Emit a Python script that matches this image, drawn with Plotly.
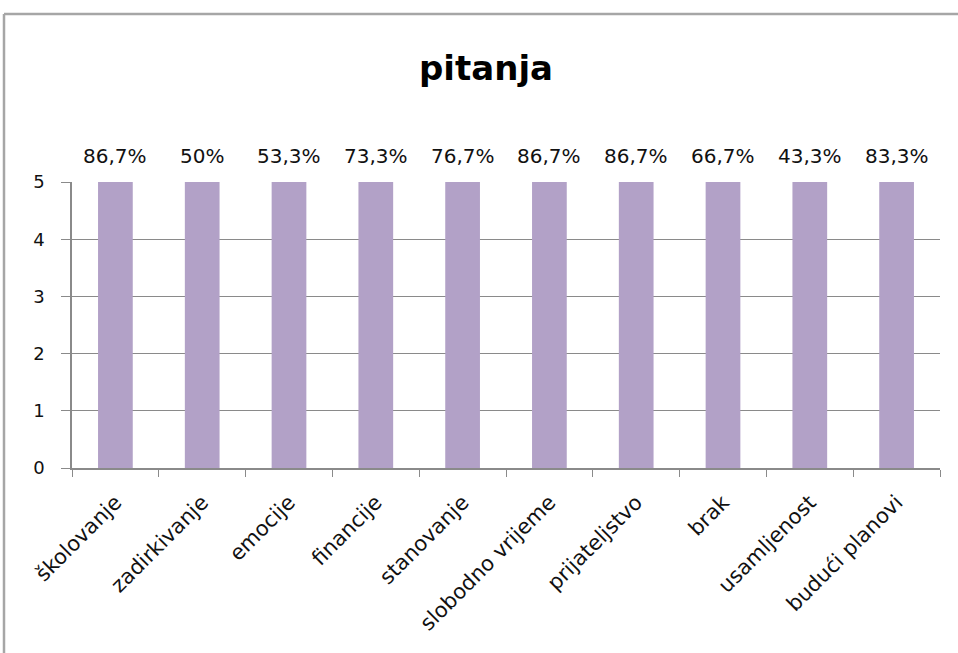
import plotly.graph_objects as go

categories = ["školovanje", "zadirkivanje", "emocije", "financije", "stanovanje",
              "slobodno vrijeme", "prijateljstvo", "brak", "usamljenost", "budući planovi"]
values = [5, 5, 5, 5, 5, 5, 5, 5, 5, 5]
labels = ["86,7%", "50%", "53,3%", "73,3%", "76,7%", "86,7%", "86,7%", "66,7%", "43,3%", "83,3%"]
y_ticks = [0, 1, 2, 3, 4, 5]

W, H = 958, 653
L, R, T, B = 72, 18, 182, 185
pw, ph = W - L - R, H - T - B
bx = (4 - L) / pw
by = (H - B - 14) / ph

font = "'DejaVu Sans', sans-serif"
grid = "#8a8a8a"
txt = "#111111"

fig = go.Figure(go.Bar(
    x=categories, y=values, marker_color="#B2A1C7", marker_line_width=0,
    width=0.4, hoverinfo="x+y",
))

annotations = [
    dict(x=c, y=v, xref="x", yref="y", text=t, showarrow=False,
         yanchor="bottom", yshift=12, font=dict(size=20, color=txt, family=font))
    for c, v, t in zip(categories, values, labels)
]

fig.update_layout(
    width=W, height=H,
    margin=dict(l=L, r=R, t=T, b=B),
    paper_bgcolor="white", plot_bgcolor="white",
    showlegend=False,
    title=dict(text="<b>pitanja</b>", x=486 / W, xanchor="center",
               y=1 - 68 / H, yanchor="middle",
               font=dict(size=34, color="#000000", family=font)),
    font=dict(family=font, color=txt),
    xaxis=dict(
        tickangle=-45, tickson="boundaries", ticks="outside", ticklen=7,
        tickcolor=grid, showline=True, linecolor=grid, linewidth=1.5,
        showgrid=False, tickfont=dict(size=21, family=font, color=txt),
        range=[-0.5, 9.5], ticklabelstandoff=12,
    ),
    yaxis=dict(
        range=[0, 5], tickvals=y_ticks, ticks="outside", ticklen=9,
        tickcolor=grid, showline=True, linecolor=grid, linewidth=1.5,
        showgrid=True, gridcolor=grid, gridwidth=1.2, zeroline=False,
        tickfont=dict(size=18, family=font, color=txt),
        ticklabelstandoff=13,
    ),
    annotations=annotations,
    shapes=[
        dict(type="line", xref="paper", yref="paper", x0=bx, x1=bx, y0=-2, y1=by,
             line=dict(color="#a6a6a6", width=2.5)),
        dict(type="line", xref="paper", yref="paper", x0=bx, x1=2, y0=by, y1=by,
             line=dict(color="#a6a6a6", width=2.5)),
    ],
)

fig.write_html("out.html", config={"displayModeBar": False},
               post_script="document.body.style.margin='0';")
